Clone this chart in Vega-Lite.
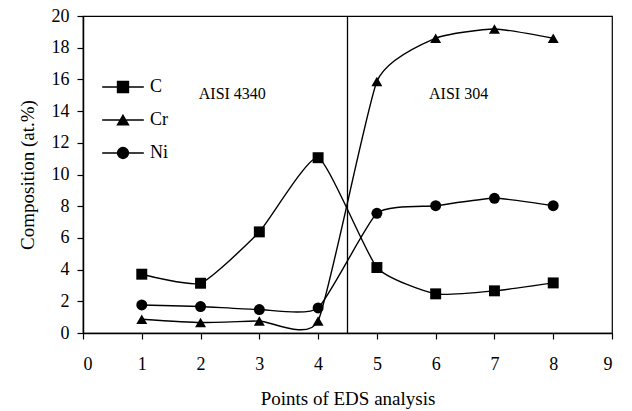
{
  "$schema": "https://vega.github.io/schema/vega-lite/v6.json",
  "width": 529,
  "height": 317,
  "autosize": {"type": "none"},
  "padding": {"left": 83, "top": 16, "right": 20, "bottom": 78},
  "background": "white",
  "config": {
    "font": "Liberation Serif",
    "view": {"stroke": "black", "strokeWidth": 1.2},
    "axis": {
      "domainColor": "black", "domainWidth": 1.5, "tickColor": "black", "tickWidth": 1.2,
      "tickSize": 6, "labelColor": "black", "labelFont": "Liberation Serif", "labelFontSize": 18,
      "titleFont": "Liberation Serif", "titleFontSize": 19, "titleFontWeight": "normal", "titleColor": "black",
      "grid": false, "labelOverlap": false
    },
    "axisY": {"labelOverlap": false},
    "axisLeft": {"labelOverlap": false},
    "axisQuantitative": {"labelOverlap": false}
  },
  "datasets": {
    "comp": [
      {"point": 1, "element": "C", "value": 3.71},
      {"point": 2, "element": "C", "value": 3.14},
      {"point": 3, "element": "C", "value": 6.38},
      {"point": 4, "element": "C", "value": 11.06},
      {"point": 5, "element": "C", "value": 4.13},
      {"point": 6, "element": "C", "value": 2.47},
      {"point": 7, "element": "C", "value": 2.66},
      {"point": 8, "element": "C", "value": 3.16},
      {"point": 1, "element": "Cr", "value": 0.87},
      {"point": 2, "element": "Cr", "value": 0.66},
      {"point": 3, "element": "Cr", "value": 0.76},
      {"point": 4, "element": "Cr", "value": 0.76},
      {"point": 5, "element": "Cr", "value": 15.87},
      {"point": 6, "element": "Cr", "value": 18.6},
      {"point": 7, "element": "Cr", "value": 19.18},
      {"point": 8, "element": "Cr", "value": 18.6},
      {"point": 1, "element": "Ni", "value": 1.77},
      {"point": 2, "element": "Ni", "value": 1.67},
      {"point": 3, "element": "Ni", "value": 1.48},
      {"point": 4, "element": "Ni", "value": 1.58},
      {"point": 5, "element": "Ni", "value": 7.55},
      {"point": 6, "element": "Ni", "value": 8.03},
      {"point": 7, "element": "Ni", "value": 8.5},
      {"point": 8, "element": "Ni", "value": 8.03}
    ],
    "boundary": [{"point": 4.5}],
    "labels": [
      {"label": "AISI 4340", "point": 2.54, "value": 15.1},
      {"label": "AISI 304", "point": 6.39, "value": 15.1}
    ]
  },
  "resolve": {"scale": {"shape": "independent"}, "legend": {"shape": "independent"}},
  "layer": [
    {
      "data": {"name": "comp"},
      "mark": {"type": "line", "interpolate": "cardinal", "tension": 0.5, "color": "black", "strokeWidth": 1.4},
      "encoding": {
        "x": {"field": "point", "type": "quantitative", "scale": {"domain": [0, 9], "nice": false}, "axis": {"values": [0,1,2,3,4,5,6,7,8,9], "format": "d", "title": "Points of EDS analysis", "labelPadding": 16, "titlePadding": 16, "labelOverlap": false}},
        "y": {"field": "value", "type": "quantitative", "scale": {"domain": [0, 20], "nice": false}, "axis": {"values": [0,2,4,6,8,10,12,14,16,18,20], "format": "d", "title": "Composition (at.%)", "labelPadding": 8, "titlePadding": 14, "labelOverlap": false}},
        "detail": {"field": "element"}
      }
    },
    {
      "data": {"name": "comp"},
      "mark": {"type": "point", "filled": true, "color": "black", "opacity": 1, "size": 120},
      "encoding": {
        "x": {"field": "point", "type": "quantitative", "axis": {"values": [0,1,2,3,4,5,6,7,8,9], "format": "d", "title": "Points of EDS analysis", "labelPadding": 16, "titlePadding": 16, "labelOverlap": false}},
        "y": {"field": "value", "type": "quantitative", "axis": {"values": [0,2,4,6,8,10,12,14,16,18,20], "format": "d", "title": "Composition (at.%)", "labelPadding": 8, "titlePadding": 14, "labelOverlap": false}},
        "shape": {
          "field": "element", "type": "nominal",
          "scale": {"domain": ["C", "Cr", "Ni"], "range": ["square", "triangle-up", "circle"]},
          "legend": null
        }
      }
    },
    {
      "data": {"name": "comp"},
      "mark": {"type": "point", "filled": true, "fill": "black", "stroke": "black", "strokeWidth": 1.4, "opacity": 0, "size": 120},
      "encoding": {
        "x": {"field": "point", "type": "quantitative", "axis": {"values": [0,1,2,3,4,5,6,7,8,9], "format": "d", "title": "Points of EDS analysis", "labelPadding": 16, "titlePadding": 16, "labelOverlap": false}},
        "y": {"field": "value", "type": "quantitative", "axis": {"values": [0,2,4,6,8,10,12,14,16,18,20], "format": "d", "title": "Composition (at.%)", "labelPadding": 8, "titlePadding": 14, "labelOverlap": false}},
        "shape": {
          "field": "element", "type": "nominal",
          "scale": {"domain": ["C", "Cr", "Ni"], "range": ["M-3.8,0H3.8M-1,-1H1V1H-1Z", "M-3.8,0H3.8M0,-0.87L1,0.87H-1Z", "M-3.8,0H3.8M1,0A1,1,0,1,1,-1,0A1,1,0,1,1,1,0Z"]},
          "legend": {
            "title": null, "orient": "none", "legendX": 31, "legendY": 62, "padding": 0,
            "labelFont": "Liberation Serif", "labelFontSize": 18, "labelColor": "black",
            "symbolSize": 120, "symbolStrokeWidth": 1.4, "symbolOpacity": 1,
            "rowPadding": 15, "labelOffset": 18
          }
        }
      }
    },
    {
      "data": {"name": "boundary"},
      "mark": {"type": "rule", "color": "black", "strokeWidth": 1.3},
      "encoding": {"x": {"field": "point", "type": "quantitative", "axis": {"values": [0,1,2,3,4,5,6,7,8,9], "format": "d", "title": "Points of EDS analysis", "labelPadding": 16, "titlePadding": 16, "labelOverlap": false}}}
    },
    {
      "data": {"name": "labels"},
      "mark": {"type": "text", "fontSize": 16, "font": "Liberation Serif", "color": "black"},
      "encoding": {
        "x": {"field": "point", "type": "quantitative", "axis": {"values": [0,1,2,3,4,5,6,7,8,9], "format": "d", "title": "Points of EDS analysis", "labelPadding": 16, "titlePadding": 16, "labelOverlap": false}},
        "y": {"field": "value", "type": "quantitative", "axis": {"values": [0,2,4,6,8,10,12,14,16,18,20], "format": "d", "title": "Composition (at.%)", "labelPadding": 8, "titlePadding": 14, "labelOverlap": false}},
        "text": {"field": "label"}
      }
    }
  ]
}
